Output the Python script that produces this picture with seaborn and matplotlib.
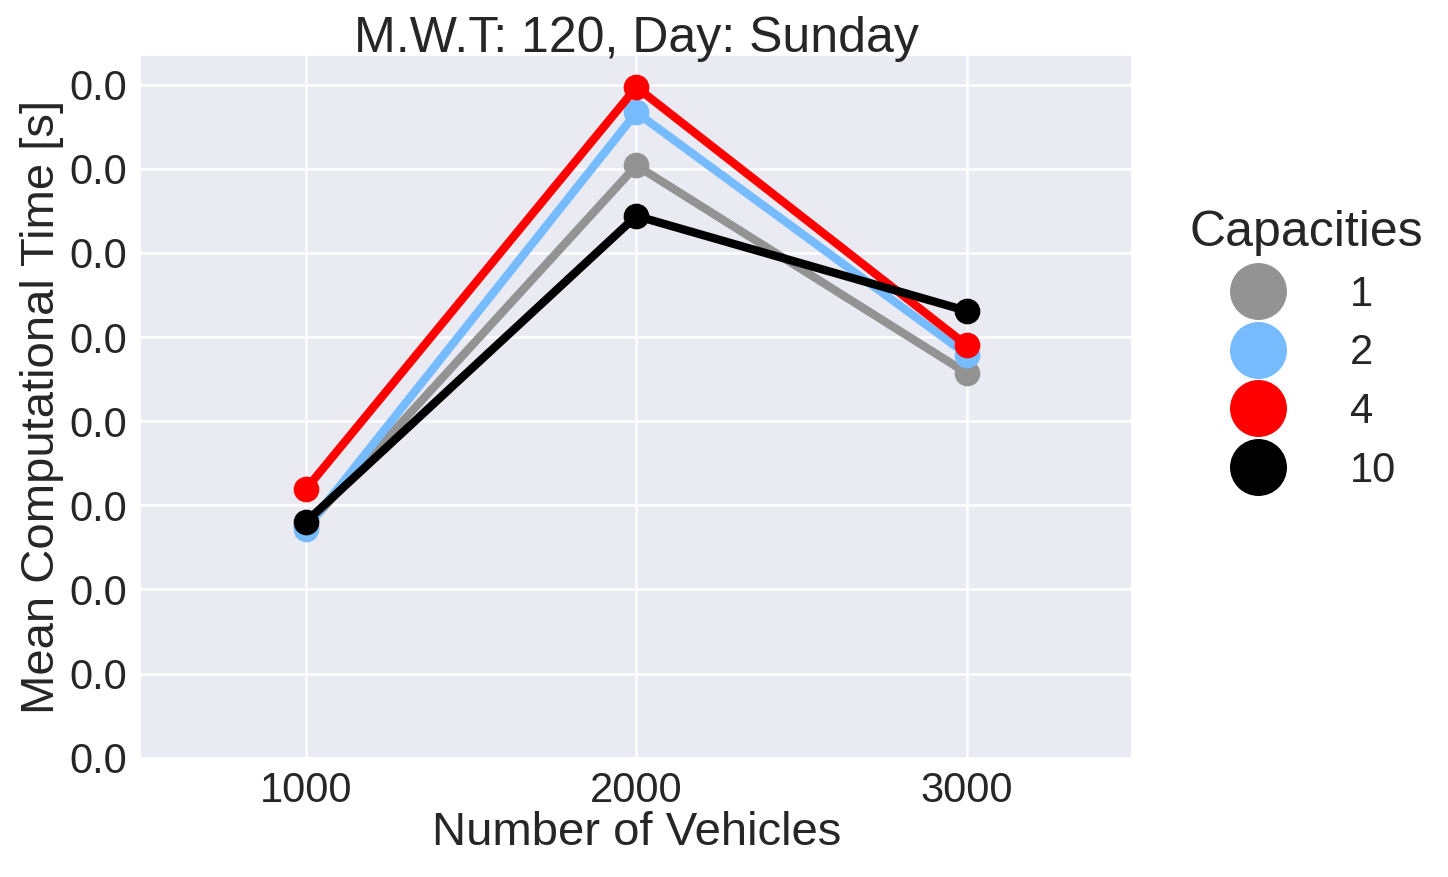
import numpy as np
import pandas as pd
import matplotlib
matplotlib.use("Agg")
import matplotlib.pyplot as plt
from matplotlib.lines import Line2D
from matplotlib.ticker import FormatStrFormatter
import seaborn as sns

vehicles = [1000, 2000, 3000]
capacities = ["1", "2", "4", "10"]
times = {
    "1": [0.00274, 0.00704, 0.00457],
    "2": [0.00272, 0.00767, 0.00479],
    "4": [0.00319, 0.00797, 0.00490],
    "10": [0.00280, 0.00644, 0.00531],
}
colors = ["#939393", "#75bbfd", "#ff0000", "#000000"]

rows = []
for c in capacities:
    for v, t in zip(vehicles, times[c]):
        rows.append({"Number of Vehicles": v, "Capacities": c, "t": t})
df = pd.DataFrame(rows)

sns.set_theme(style="darkgrid", font_scale=2)
plt.rcParams['font.family'] = ['Arial', 'Liberation Sans', 'DejaVu Sans']

fig, ax = plt.subplots(figsize=(14.48, 8.77), dpi=100)
sns.pointplot(data=df, x="Number of Vehicles", y="t", hue="Capacities",
              hue_order=capacities, palette=colors, ax=ax,
              markersize=14, linewidth=6, legend=False)
ax.set_ylim(0, 0.00835)
ax.set_yticks(np.arange(0, 0.0081, 0.001))
ax.yaxis.set_major_formatter(FormatStrFormatter('%.1f'))
ax.tick_params(labelsize=30)
ax.grid(linewidth=1.8)
ax.set_xlabel("Number of Vehicles", fontsize=34, labelpad=0)
ax.set_ylabel("Mean Computational Time [s]", fontsize=34, labelpad=4)
ax.set_title("M.W.T: 120, Day: Sunday", fontsize=36, pad=2)

handles = [Line2D([], [], marker='o', linestyle='', color=c, markersize=40) for c in colors]
leg = ax.legend(handles, capacities, title="Capacities", loc="center left",
                bbox_to_anchor=(1.02, 0.58), frameon=False, fontsize=30,
                title_fontsize=36, labelspacing=0.45, handletextpad=1.2)

fig.subplots_adjust(left=0.097, right=0.782, top=0.937, bottom=0.136)
fig.savefig("out.png", dpi=100)
